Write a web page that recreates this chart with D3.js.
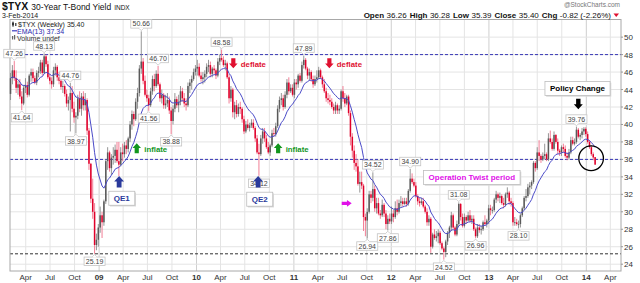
<!DOCTYPE html>
<html><head><meta charset="utf-8">
<script src="https://cdn.jsdelivr.net/npm/d3@7"></script>
<style>
body{margin:0;background:#fff}
svg{display:block}
text{font-family:"Liberation Sans",Arial,sans-serif}
</style>
</head><body>
<svg id="c" width="640" height="283"></svg>
<script>
// ---------------- DATA ----------------
const startWeek = "2008-02-04"; // Monday of first weekly bar
// weekly O/H/L/C (yield x10), one line per calendar year
const opens = [
43.5,45.3,46.2,45.3,44.2,44.6,43.2,42.4,44.2,44.5,43.4,45.6,46.0,45.3,44.8,45.9,46.1,47.1,45.9,47.8,46.9,45.4,45.0,44.6,46.2,46.6,45.4,45.0,44.3,44.4,43.5,42.4,42.8,43.6,41.8,40.8,41.0,43.0,41.8,43.2,42.2,42.8,39.3,35.5,31.5,30.0,26.2,26.8,
28.2,29.6,28.8,31.2,35.8,36.8,35.0,36.2,36.4,37.1,35.8,35.4,36.8,36.6,37.6,37.2,38.4,40.0,41.2,40.6,42.6,43.6,46.4,47.2,45.0,43.4,43.0,42.2,43.8,45.2,44.4,45.8,44.6,43.0,43.4,42.2,42.4,42.8,41.6,40.4,41.8,42.9,42.2,42.6,43.8,43.0,42.4,42.2,44.4,44.8,45.2,46.0,
46.4,46.6,45.6,45.2,45.4,45.8,46.6,46.8,45.8,46.4,46.2,45.6,47.2,47.6,47.4,46.8,47.0,45.4,43.0,44.0,41.4,42.2,41.2,42.0,41.8,40.6,39.2,40.0,39.6,39.9,40.2,39.6,38.4,36.8,36.6,38.4,39.2,38.4,37.4,36.8,37.6,39.0,38.9,39.8,41.8,42.8,43.0,42.0,43.4,44.8,43.8,44.2,
43.4,44.8,44.6,45.6,45.0,46.8,47.4,46.4,45.6,46.0,45.2,44.6,45.2,45.4,46.2,45.4,44.6,43.8,43.0,42.8,42.6,42.0,41.6,42.2,41.6,41.8,43.8,43.0,42.4,43.2,41.3,38.6,37.0,35.6,35.2,33.2,33.4,33.0,29.4,29.0,30.0,32.0,31.6,32.6,30.4,31.0,29.8,29.6,30.8,29.8,28.6,29.2,
28.9,29.8,29.4,30.4,30.0,31.0,31.2,30.9,31.2,30.9,32.4,33.8,33.4,33.0,31.8,31.2,31.0,31.2,30.6,30.0,28.8,29.2,26.0,27.4,27.0,27.2,27.6,26.4,25.8,25.4,26.6,27.6,28.2,29.6,28.2,27.4,28.6,30.9,29.4,28.4,29.4,29.0,29.6,29.0,29.2,28.0,27.2,28.2,27.9,28.0,28.8,28.6,
29.0,30.4,30.2,30.2,31.4,32.0,31.6,31.8,31.0,30.8,32.0,32.2,31.2,31.0,28.8,28.8,28.6,28.6,29.6,30.4,31.6,31.8,32.8,33.0,33.4,35.6,35.0,36.8,36.4,36.0,36.4,36.6,36.0,38.4,38.0,37.2,38.8,38.0,37.0,36.8,37.4,37.2,36.4,36.2,36.8,38.2,37.8,38.0,39.4,38.6,38.8,39.2,39.5,
38.9,38.0,37.4,36.6,36.26];
const highs = [
45.9,46.8,47.26,46.2,45.0,45.2,43.8,44.5,45.3,44.9,45.8,46.4,46.4,45.6,46.2,46.6,47.4,47.4,48.13,48.0,47.3,45.8,45.4,46.6,47.0,46.8,46.0,45.4,45.0,44.6,44.0,43.2,44.76,44.4,42.6,41.4,43.4,43.8,43.6,43.8,43.6,43.0,39.6,35.6,33.8,31.0,27.5,28.6,
30.6,30.0,31.4,36.0,37.4,37.0,36.6,37.4,37.7,38.0,38.0,37.4,37.8,38.0,38.2,38.6,40.4,41.6,41.5,43.0,44.2,46.8,50.66,47.6,45.6,44.0,43.4,44.2,45.6,45.8,46.2,46.70,44.8,44.0,43.6,43.4,43.6,43.2,42.0,42.2,43.6,43.2,43.4,44.4,44.2,43.6,43.0,44.8,45.2,45.6,46.4,46.8,
47.4,47.0,46.0,46.0,46.2,47.0,47.4,47.2,46.6,46.8,46.4,47.6,48.0,48.58,47.8,47.4,47.2,45.8,44.4,44.2,42.6,42.8,42.4,42.6,42.0,41.0,40.4,40.6,40.2,40.6,40.6,39.8,38.8,37.8,38.8,39.6,39.6,38.8,38.0,37.8,39.4,39.6,40.2,42.2,43.2,43.6,43.4,43.8,45.2,45.4,44.6,44.6,
45.2,45.2,45.8,45.9,47.2,47.89,47.6,46.6,46.4,46.2,45.6,45.6,46.2,46.6,46.4,45.6,45.2,44.2,43.6,43.4,43.0,42.4,42.6,42.4,42.2,44.0,44.4,43.6,43.4,43.4,41.6,39.0,37.6,36.6,36.0,34.6,34.6,33.2,29.8,30.4,32.4,32.4,34.52,33.0,31.6,31.6,30.2,31.4,31.0,30.2,29.6,29.8,
30.6,30.2,31.2,31.4,31.4,31.8,31.6,31.6,31.6,32.6,34.90,34.4,33.8,33.4,32.0,31.6,31.6,31.6,30.8,30.4,29.6,29.4,27.6,28.0,27.8,28.0,27.8,26.6,26.0,26.8,27.8,28.4,30.0,29.8,28.4,29.0,31.08,31.0,29.8,29.8,29.6,30.0,30.2,29.6,29.6,28.2,28.6,28.6,28.4,29.0,29.6,29.2,
30.8,30.8,30.6,31.6,32.4,32.2,32.2,32.0,31.6,32.2,32.8,32.4,31.6,31.2,29.4,29.2,29.0,29.8,30.6,31.8,32.6,33.2,33.4,33.6,35.8,35.8,37.4,38.2,36.6,36.8,37.8,36.8,39.0,39.3,38.4,39.2,38.9,38.4,37.2,37.6,37.8,37.6,36.8,37.2,38.6,38.6,38.4,39.76,39.6,39.0,39.6,39.7,39.7,
39.2,38.2,37.6,36.8,36.28];
const lows = [
42.8,44.6,45.0,43.6,43.4,42.9,41.64,42.2,43.6,43.1,43.2,44.9,44.9,44.6,44.5,45.4,45.8,45.6,45.8,46.6,45.2,44.6,44.1,44.3,45.6,45.0,44.6,44.0,43.6,43.2,42.0,41.6,39.2,41.4,40.2,38.97,40.6,41.4,41.0,41.6,41.6,38.8,34.8,31.0,29.2,25.19,25.6,26.0,
27.6,27.0,28.4,30.9,34.8,34.6,34.2,35.4,35.6,35.6,34.1,35.2,35.8,36.2,36.6,36.8,38.0,39.4,39.8,40.4,41.8,43.2,45.8,44.6,43.2,42.6,41.56,42.0,43.4,43.8,44.2,44.4,42.6,42.4,41.8,41.8,42.0,41.2,38.88,40.0,41.4,41.9,41.4,42.2,42.6,42.0,41.6,42.0,43.6,44.0,45.0,45.6,
45.6,45.4,44.9,44.6,44.8,45.4,46.0,45.4,45.4,45.8,45.2,45.4,46.8,47.2,46.6,46.2,45.2,42.4,42.6,40.8,40.6,40.8,40.9,41.2,40.2,38.9,39.0,39.4,39.2,39.6,39.4,38.0,36.6,34.12,36.4,37.8,38.0,37.2,36.6,36.4,37.4,38.6,38.6,39.6,41.4,42.2,41.6,41.8,43.0,43.4,43.6,43.2,
43.0,44.0,44.2,44.8,44.8,46.4,46.2,45.2,45.0,44.9,44.2,44.4,44.8,45.2,45.2,44.2,43.6,42.6,42.4,42.2,41.8,41.2,41.2,41.2,41.2,41.6,42.6,42.0,42.2,41.0,37.6,36.2,34.8,34.6,33.0,32.2,32.6,27.8,27.2,26.94,29.8,31.0,31.2,30.0,29.8,29.6,29.2,29.4,29.4,28.0,27.86,28.6,
28.6,28.8,29.2,29.6,29.8,30.6,30.6,30.8,30.6,30.7,32.2,33.2,32.8,31.6,30.8,30.6,30.8,30.4,29.8,28.4,28.4,25.3,25.8,26.8,26.6,26.4,26.2,25.6,24.52,24.8,26.2,27.0,27.8,28.0,27.2,27.2,28.4,29.0,28.2,28.2,28.6,28.9,28.8,28.6,27.8,26.96,27.0,27.6,27.4,27.8,28.4,28.2,
28.6,29.6,29.8,30.0,31.0,31.2,31.0,30.8,30.4,30.6,31.6,30.8,30.6,28.4,28.4,28.4,28.10,28.2,29.4,30.2,31.2,31.6,32.0,32.6,33.2,34.6,34.8,35.8,35.6,35.8,36.0,35.8,35.8,37.8,37.0,37.0,37.8,36.6,36.4,36.4,36.8,36.2,35.9,36.0,36.6,37.6,37.6,37.8,38.4,38.2,38.4,38.8,38.6,
37.8,37.2,36.4,35.9,35.39];
const closes = [
45.3,46.2,45.3,44.2,44.6,43.2,42.4,44.2,44.5,43.4,45.6,46.0,45.3,44.8,45.9,46.1,47.1,45.9,47.8,46.9,45.4,45.0,44.6,46.2,46.6,45.4,45.0,44.3,44.4,43.5,42.4,42.8,43.6,41.8,40.8,41.0,43.0,41.8,43.2,42.2,42.8,39.3,35.5,31.5,30.0,26.2,26.8,28.2,
29.6,28.8,31.2,35.8,36.8,35.0,36.2,36.4,37.1,35.8,35.4,36.8,36.6,37.6,37.2,38.4,40.0,41.2,40.6,42.6,43.6,46.4,47.2,45.0,43.4,43.0,42.2,43.8,45.2,44.4,45.8,44.6,43.0,43.4,42.2,42.4,42.8,41.6,40.4,41.8,42.9,42.2,42.6,43.8,43.0,42.4,42.2,44.4,44.8,45.2,46.0,46.4,
46.6,45.6,45.2,45.4,45.8,46.6,46.8,45.8,46.4,46.2,45.6,47.2,47.6,47.4,46.8,47.0,45.4,43.0,44.0,41.4,42.2,41.2,42.0,41.8,40.6,39.2,40.0,39.6,39.9,40.2,39.6,38.4,36.8,36.6,38.4,39.2,38.4,37.4,36.8,37.6,39.0,38.9,39.8,41.8,42.8,43.0,42.0,43.4,44.8,43.8,44.2,43.4,
44.8,44.6,45.6,45.0,46.8,47.4,46.4,45.6,46.0,45.2,44.6,45.2,45.4,46.2,45.4,44.6,43.8,43.0,42.8,42.6,42.0,41.6,42.2,41.6,41.8,43.8,43.0,42.4,43.2,41.3,38.6,37.0,35.6,35.2,33.2,33.4,33.0,29.4,29.0,30.0,32.0,31.6,32.6,30.4,31.0,29.8,29.6,30.8,29.8,28.6,29.2,28.9,
29.8,29.4,30.4,30.0,31.0,31.2,30.9,31.2,30.9,32.4,33.8,33.4,33.0,31.8,31.2,31.0,31.2,30.6,30.0,28.8,29.2,26.0,27.4,27.0,27.2,27.6,26.4,25.8,25.4,26.6,27.6,28.2,29.6,28.2,27.4,28.6,30.9,29.4,28.4,29.4,29.0,29.6,29.0,29.2,28.0,27.2,28.2,27.9,28.0,28.8,28.6,29.0,
30.4,30.2,30.2,31.4,32.0,31.6,31.8,31.0,30.8,32.0,32.2,31.2,31.0,28.8,28.8,28.6,28.6,29.6,30.4,31.6,31.8,32.8,33.0,33.4,35.6,35.0,36.8,36.4,36.0,36.4,36.6,36.0,38.4,38.0,37.2,38.8,38.0,37.0,36.8,37.4,37.2,36.4,36.2,36.8,38.2,37.8,38.0,39.4,38.6,38.8,39.2,39.5,38.9,
38.0,37.4,36.6,36.22,35.40];

const yTickValues = [24,26,28,30,32,34,36,38,40,42,44,46,48,50];
const quarterLabels = {3:"Apr", 6:"Jul", 9:"Oct"};   // January shows the 2-digit year
const refLinesBlue = [48.0, 36.0];
const refLineBlack = 25.19;

// swing labels
const swingDates  = ["2008-02-18","2008-03-17","2008-06-09","2008-09-15","2008-10-06","2008-12-15","2009-06-08","2009-07-06","2009-08-10","2009-09-28","2010-04-05","2010-08-23","2011-02-07","2011-10-03","2011-10-24","2011-12-19","2012-03-12","2012-07-16","2012-09-10","2012-11-12","2013-04-22","2013-11-25"];
const swingValues = [47.26,41.64,48.13,44.76,38.97,25.19,50.66,41.56,46.70,38.88,48.58,34.12,47.89,26.94,34.52,27.86,34.90,24.52,31.08,26.96,28.10,39.76];
const swingHigh   = [1,0,1,1,0,0,1,0,1,0,1,0,1,0,1,0,1,0,1,0,0,1];

// annotation arrows
const arrowDates  = ["2010-05-19","2011-05-14","2009-05-22","2010-11-03","2009-03-17","2010-08-20","2011-07-18","2013-12-02"];
const arrowValues = [47.0,47.0,37.27,37.27,33.45,33.45,30.97,42.35];
const arrowDirs   = ["down","down","up","up","up","up","right","down"];
const arrowTexts  = ["deflate","deflate","inflate","inflate","","","",""];
const arrowKinds  = ["red","red","green","green","blue","blue","magenta","black"];

// annotation boxes
const boxDates  = ["2009-03-27","2010-08-26","2012-10-29","2013-11-29"];
const boxValues = [31.55,31.44,33.93,44.12];
const boxTexts  = ["QE1","QE2","Operation Twist period","Policy Change"];
const boxKinds  = ["blue","blue","magenta","black"];

const circleDate = "2014-01-19", circleValue = 36.13;

const legendPrice = "35.40", legendEma = "37.34";
const ohlcText = {Open:"36.26", High:"36.28", Low:"35.39", Close:"35.40", Chg:"-0.82 (-2.26%)"};

// ---------------- CHART ----------------
const parse = d3.utcParse("%Y-%m-%d");
const svg = d3.select("#c");
const L = 10, R = 621, T = 19.5, B = 271;
const x = d3.scaleUtc().domain([parse("2008-02-02"), parse("2014-05-11")]).range([L, R]);
const y = d3.scaleLinear().domain([24, 48]).range([264.2, 54.6]);

const t0 = parse(startWeek);
const bars = closes.map((c, i) => ({date: d3.utcDay.offset(t0, 7 * i), o: opens[i], h: highs[i], l: lows[i], c,
  prev: i ? closes[i - 1] : opens[i]}));

// EMA(13)
const k = 2 / 14; let e = closes[0];
const ema = bars.map((b, i) => { e = i ? b.c * k + e * (1 - k) : b.c; return {date: b.date, v: e}; });

const COL = {red:"#e01030", green:"#12961e", blue:"#2a3a9c", magenta:"#e010e8", black:"#000"};

// gridlines
const g = svg.append("g");
const qTicks = x.ticks(d3.utcMonth.every(3)).filter(d => d >= x.domain()[0] && d <= x.domain()[1]);
g.selectAll(".vg").data(qTicks).join("line")
  .attr("x1", d => x(d)).attr("x2", d => x(d)).attr("y1", T).attr("y2", B)
  .attr("stroke", d => d.getUTCMonth() === 0 ? "#cfcfcf" : "#e4e4e4").attr("stroke-width", 1);
g.selectAll(".hg").data(yTickValues).join("line")
  .attr("x1", L).attr("x2", R).attr("y1", d => y(d)).attr("y2", d => y(d))
  .attr("stroke", "#e4e4e4");

// reference lines
svg.selectAll(".rb").data(refLinesBlue).join("line")
  .attr("x1", L).attr("x2", R).attr("y1", d => y(d)).attr("y2", d => y(d))
  .attr("stroke", "#3535b5").attr("stroke-dasharray", "3,2").attr("stroke-width", 1);
svg.append("line").attr("x1", L).attr("x2", R).attr("y1", y(refLineBlack)).attr("y2", y(refLineBlack))
  .attr("stroke", "#333").attr("stroke-dasharray", "3,2");

// frame
svg.append("rect").attr("x", L).attr("y", T).attr("width", R - L).attr("height", B - T)
  .attr("fill", "none").attr("stroke", "#a8a8a8");

// axes labels
const fmtY = d3.utcFormat("%y");
svg.selectAll(".xl").data(qTicks).join("text")
  .attr("x", d => x(d)).attr("y", 280).attr("text-anchor", "middle")
  .attr("font-size", 8).attr("fill", "#333")
  .attr("font-weight", d => d.getUTCMonth() === 0 ? "bold" : "normal")
  .text(d => d.getUTCMonth() === 0 ? fmtY(d) : quarterLabels[d.getUTCMonth()]);
svg.selectAll(".yl").data(yTickValues).join("text")
  .attr("x", 624).attr("y", d => y(d) + 3).attr("font-size", 8).attr("fill", "#333").text(d => d);
svg.selectAll(".yt").data(yTickValues).join("line")
  .attr("x1", R).attr("x2", R + 2).attr("y1", d => y(d)).attr("y2", d => y(d)).attr("stroke", "#999");

// candles
const cg = svg.append("g");
const bw = 1.5;
cg.selectAll(".wick").data(bars).join("line")
  .attr("x1", d => x(d.date)).attr("x2", d => x(d.date))
  .attr("y1", d => y(d.h)).attr("y2", d => y(d.l))
  .attr("stroke", d => d.c < d.prev ? "#f0708a" : "#8a8a8a").attr("stroke-width", 0.9);
cg.selectAll(".body").data(bars).join("rect")
  .attr("x", d => x(d.date) - bw / 2).attr("width", bw)
  .attr("y", d => y(Math.max(d.o, d.c))).attr("height", d => Math.max(0.8, Math.abs(y(d.o) - y(d.c))))
  .attr("fill", d => d.c < d.prev ? "#e0002a" : (d.c >= d.o ? "#5a5a5a" : "#111"));

// EMA
svg.append("path").datum(ema)
  .attr("d", d3.line().x(d => x(d.date)).y(d => y(d.v)))
  .attr("fill", "none").attr("stroke", "#4a4ac8").attr("stroke-width", 1);

// swing labels
const sg = svg.append("g");
swingDates.forEach((ds, i) => {
  const cx = x(parse(ds)), py = y(swingValues[i]);
  const hi = swingHigh[i] === 1;
  const cy = hi ? py - 7.5 : py + 7.5;
  const txt = swingValues[i].toFixed(2);
  const w = 21, h = 8.5;
  const gg = sg.append("g");
  gg.append("rect").attr("x", cx - w / 2).attr("y", cy - h / 2).attr("width", w).attr("height", h)
    .attr("fill", "#fff").attr("stroke", "#c4c4c4").attr("stroke-width", 0.8);
  const ty = hi ? cy + h / 2 : cy - h / 2, tip = hi ? ty + 2.5 : ty - 2.5;
  gg.append("path").attr("d", `M${cx - 2.5},${ty}L${cx},${tip}L${cx + 2.5},${ty}`)
    .attr("fill", "#fff").attr("stroke", "#c4c4c4").attr("stroke-width", 0.8);
  gg.append("line").attr("x1", cx - 2).attr("x2", cx + 2).attr("y1", ty).attr("y2", ty).attr("stroke", "#fff");
  gg.append("text").attr("x", cx).attr("y", cy + 2.6).attr("text-anchor", "middle")
    .attr("font-size", 7).attr("fill", "#444").text(txt);
});

// arrows
function arrowPath(cx, cy, dir, s) {
  const hw = 4.5 * s, hh = 5 * s, sw = 2.2 * s, sh = 5.5 * s;
  let pts;
  if (dir === "up") {
    const top = cy - (hh + sh) / 2;
    pts = [[cx, top], [cx + hw, top + hh], [cx + sw, top + hh], [cx + sw, top + hh + sh], [cx - sw, top + hh + sh], [cx - sw, top + hh], [cx - hw, top + hh]];
  } else if (dir === "down") {
    const bot = cy + (hh + sh) / 2;
    pts = [[cx, bot], [cx + hw, bot - hh], [cx + sw, bot - hh], [cx + sw, bot - hh - sh], [cx - sw, bot - hh - sh], [cx - sw, bot - hh], [cx - hw, bot - hh]];
  } else {
    const rt = cx + (hh + sh) / 2;
    pts = [[rt, cy], [rt - hh, cy - hw * 0.8], [rt - hh, cy - sw * 0.8], [rt - hh - sh, cy - sw * 0.8], [rt - hh - sh, cy + sw * 0.8], [rt - hh, cy + sw * 0.8], [rt - hh, cy + hw * 0.8]];
  }
  return "M" + pts.map(p => p.join(",")).join("L") + "Z";
}
const ag = svg.append("g");
arrowDates.forEach((ds, i) => {
  const cx = x(parse(ds)), cy = y(arrowValues[i]);
  const s = arrowKinds[i] === "blue" ? 1.1 : (arrowKinds[i] === "black" ? 1.0 : 0.95);
  ag.append("path").attr("d", arrowPath(cx, cy, arrowDirs[i], s)).attr("fill", COL[arrowKinds[i]]);
  if (arrowTexts[i]) {
    ag.append("text").attr("x", cx + 7.5).attr("y", cy + 4).attr("font-size", 7.8).attr("font-weight", "bold")
      .attr("fill", COL[arrowKinds[i]]).text(arrowTexts[i]);
  }
});

// boxes
const bg = svg.append("g");
boxDates.forEach((ds, i) => {
  const cx = x(parse(ds)), cy = y(boxValues[i]);
  const t = bg.append("text").attr("x", cx).attr("y", cy + 3).attr("text-anchor", "middle")
    .attr("font-size", 8).attr("font-weight", "bold").attr("fill", COL[boxKinds[i]]).text(boxTexts[i]);
  const w = t.node().getComputedTextLength() + 10, h = 14;
  bg.insert("rect", () => t.node()).attr("x", cx - w / 2 + 1.2).attr("y", cy - h / 2 + 1.2).attr("width", w).attr("height", h)
    .attr("fill", "#d8d8d8");
  bg.insert("rect", () => t.node()).attr("x", cx - w / 2).attr("y", cy - h / 2).attr("width", w).attr("height", h)
    .attr("fill", "#fff").attr("stroke", "#bdbdbd").attr("stroke-width", 0.8);
});

// circle
svg.append("circle").attr("cx", x(parse(circleDate))).attr("cy", y(circleValue)).attr("r", 12.3)
  .attr("fill", "none").attr("stroke", "#000").attr("stroke-width", 1.3);

// legend inside chart
const lg = svg.append("g");
lg.append("line").attr("x1", 13).attr("x2", 13).attr("y1", 21.5).attr("y2", 27).attr("stroke", "#555");
lg.append("rect").attr("x", 12).attr("y", 22.5).attr("width", 2).attr("height", 3).attr("fill", "#333");
lg.append("rect").attr("x", 15).attr("y", 23).attr("width", 1.5).attr("height", 3).attr("fill", "#555");
lg.append("text").attr("x", 18).attr("y", 26.5).attr("font-size", 7).attr("fill", "#222").text(`$TYX (Weekly) ${legendPrice}`);
lg.append("line").attr("x1", 12).attr("x2", 17).attr("y1", 30.8).attr("y2", 30.8).attr("stroke", "#3a3ac0").attr("stroke-width", 1.2);
lg.append("text").attr("x", 17).attr("y", 33.5).attr("font-size", 7).attr("fill", "#2a2ab0").text(`EMA(13) ${legendEma}`);
lg.append("rect").attr("x", 12).attr("y", 36).attr("width", 1.2).attr("height", 3.5).attr("fill", "#666");
lg.append("rect").attr("x", 14).attr("y", 35).attr("width", 1.2).attr("height", 4.5).attr("fill", "#666");
lg.append("text").attr("x", 17).attr("y", 40.5).attr("font-size", 7).attr("fill", "#333").text("Volume undef");

// header
const hd = svg.append("text").attr("x", 2).attr("y", 10).attr("fill", "#111");
hd.append("tspan").attr("font-size", 10.5).attr("font-weight", "bold").text("$TYX");
hd.append("tspan").attr("font-size", 8.5).attr("dx", 3).text("30-Year T-Bond Yield");
hd.append("tspan").attr("font-size", 6.5).attr("dx", 3).text("INDX");
svg.append("text").attr("x", 2).attr("y", 18).attr("font-size", 7).attr("fill", "#222").text("3-Feb-2014");
svg.append("text").attr("x", 620).attr("y", 7).attr("text-anchor", "end").attr("font-size", 6.5).attr("fill", "#777").text("@StockCharts.com");

const oh = svg.append("text").attr("x", 611).attr("y", 17.5).attr("text-anchor", "end").attr("font-size", 8).attr("fill", "#111");
Object.entries(ohlcText).forEach(([kk, v], i) => {
  oh.append("tspan").attr("font-weight", "bold").attr("dx", i ? 3 : 0).text(kk);
  oh.append("tspan").attr("dx", 2.5).text(v);
});
svg.append("path").attr("d", "M613.5,13.5L619,13.5L616.25,17Z").attr("fill", "#e01030");
</script>
</body></html>
